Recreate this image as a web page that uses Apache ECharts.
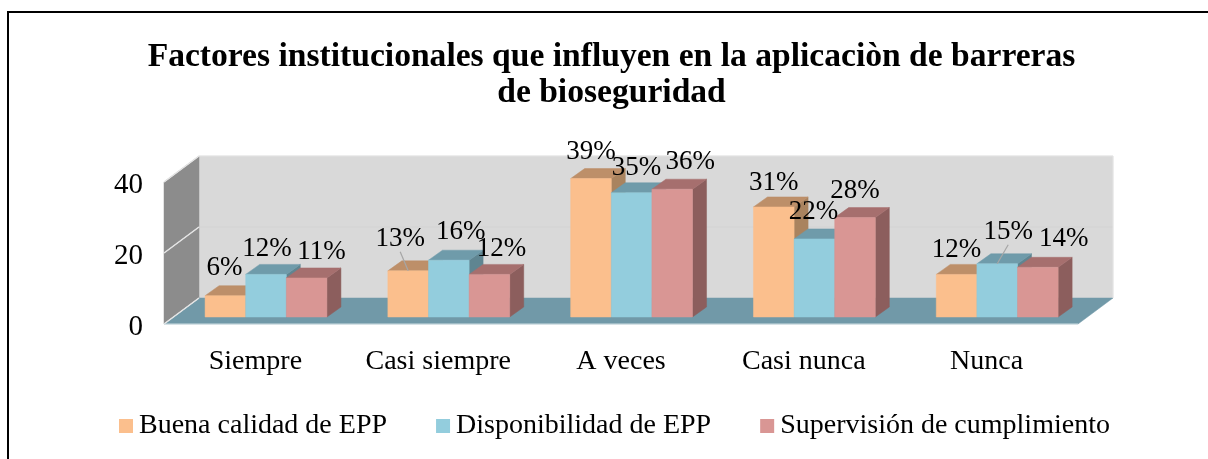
<!DOCTYPE html>
<html><head><meta charset="utf-8">
<style>html,body{margin:0;padding:0;background:#fff}#c{width:1208px;height:459px}</style>
<script src="https://cdn.jsdelivr.net/npm/echarts@6/dist/echarts.min.js"></script>
</head><body><div id="c"></div>
<script>
var categories = ['Siempre', 'Casi siempre', 'A veces', 'Casi nunca', 'Nunca'];
var buenaCalidad = [6, 13, 39, 31, 12];
var disponibilidad = [12, 16, 35, 22, 15];
var supervision = [11, 12, 36, 28, 14];
var yTicks = [0, 20, 40];
var seriesNames = ['Buena calidad de EPP', 'Disponibilidad de EPP', 'Supervisión de cumplimiento'];

var FONT = '"Liberation Serif","Times New Roman",serif';
var faces = [
  {front: '#FBBF8D', top: '#BD8F69', side: '#A9835F'},
  {front: '#93CDDD', top: '#6F9BAA', side: '#5F8591'},
  {front: '#D99694', top: '#A66F6E', side: '#8C5E5D'}
];
// Label placement relative to the top-front centre of each bar [dx, dy]
var labelNudge = [
  [[-1,-28],[-8,-32],[0,-27],[0,-24],[0,-24]],
  [[1,-25],[12,-28],[5,-25],[-1,-27],[11,-32]],
  [[15,-26],[12,-25],[18,-27],[0,-27],[26,-28]]
];
var leaders = {'0-1': true, '1-4': true};
var DEPTH = {x: 35, y: -26};       // wall depth
var BAR_DEPTH = {x: 14, y: -10};   // bar depth
var BAR_SHIFT = {x: 10.6, y: -7};  // bars stand inside the floor
var BAR_W = 0.2222;                // share of a category band

function poly(pts, fill, stroke, z2) {
  return {type: 'polygon', shape: {points: pts}, z2: z2,
    style: {fill: fill, stroke: stroke || fill, lineWidth: stroke ? 1 : 0.5}};
}
function renderWalls(params, api) {
  var cs = params.coordSys, x0 = cs.x, x1 = cs.x + cs.width;
  var y0 = api.coord([0, 0])[1], yT = api.coord([0, 40])[1];
  var dx = DEPTH.x, dy = DEPTH.y, edge = '#e4e4e4';
  var kids = [
    poly([[x0+dx,yT+dy],[x1+dx,yT+dy],[x1+dx,y0+dy],[x0+dx,y0+dy]], '#D9D9D9', null, 1),
    poly([[x0,yT],[x0+dx,yT+dy],[x0+dx,y0+dy],[x0,y0]], '#8C8C8C', null, 1),
    poly([[x0,y0],[x1,y0],[x1+dx,y0+dy],[x0+dx,y0+dy]], '#7199A8', null, 2)
  ];
  yTicks.forEach(function (t) {
    var y = api.coord([0, t])[1];
    kids.push({type: 'polyline', z2: 3, shape: {points: [[x0, y],[x0+dx, y+dy],[x1+dx, y+dy]].slice(0, t === 0 ? 2 : 3)},
      style: {fill: null, stroke: t === 20 ? '#d3d3d3' : edge, lineWidth: 1}});
    kids.push({type: 'line', z2: 3, shape: {x1: x0, y1: y, x2: x0+dx, y2: y+dy},
      style: {stroke: edge, lineWidth: 1.5}});
  });
  kids.push({type: 'line', z2: 3, shape: {x1: x1+dx, y1: yT+dy, x2: x1+dx, y2: y0+dy}, style: {stroke: edge, lineWidth: 1}});
  kids.push({type: 'line', z2: 3, shape: {x1: x0, y1: y0, x2: x1, y2: y0}, style: {stroke: '#cfdde2', lineWidth: 1}});
  return {type: 'group', children: kids};
}
function makeRender(s) {
  return function (params, api) {
    var i = api.value(0), v = api.value(1);
    var c = api.coord([i, v]), b = api.coord([i, 0]);
    var w = api.size([1, 0])[0] * BAR_W;
    var L = c[0] + BAR_SHIFT.x + (s - 1.5) * w, R = L + w;
    var T = c[1] + BAR_SHIFT.y, B = b[1] + BAR_SHIFT.y;
    var dx = BAR_DEPTH.x, dy = BAR_DEPTH.y, f = faces[s], z = 10 + s * 5;
    var kids = [
      poly([[R,T],[R+dx,T+dy],[R+dx,B+dy],[R,B]], f.side, null, z),
      poly([[L,T],[L+dx,T+dy],[R+dx,T+dy],[R,T]], f.top, null, z + 1),
      poly([[L,T],[R,T],[R,B],[L,B]], f.front, null, z + 2)
    ];
    var n = labelNudge[s][i], cx = (L + R) / 2;
    if (leaders[s + '-' + i]) {
      kids.push({type: 'line', z2: 90, shape: {x1: cx, y1: T, x2: cx + n[0], y2: T + n[1] + 13},
        style: {stroke: '#a6a6a6', lineWidth: 1.2}});
    }
    kids.push({type: 'text', z2: 100, x: cx + n[0], y: T + n[1],
      style: {text: v + '%', fill: '#000', font: '27px ' + FONT, align: 'center', verticalAlign: 'middle'}});
    return {type: 'group', children: kids};
  };
}
var values = [buenaCalidad, disponibilidad, supervision];
var series = [{
  type: 'custom', name: 'walls', silent: true, clip: false, z: 2,
  renderItem: renderWalls, data: [[0, 0]], encode: {x: 0, y: 1}
}];
values.forEach(function (arr, s) {
  series.push({
    type: 'custom', name: seriesNames[s], clip: false, z: 2,
    itemStyle: {color: faces[s].front},
    renderItem: makeRender(s),
    encode: {x: 0, y: 1},
    data: arr.map(function (v, i) { return [i, v]; })
  });
});
var chart = echarts.init(document.getElementById('c'), null, {renderer: 'canvas'});
chart.setOption({
  animation: false,
  backgroundColor: '#fff',
  title: {
    text: 'Factores institucionales que influyen en la aplicaciòn de barreras\nde bioseguridad',
    left: 606.5, top: 34, textAlign: 'center',
    textStyle: {fontFamily: FONT, fontWeight: 'bold', fontSize: 33.6, lineHeight: 36, color: '#000'}
  },
  grid: {left: 164, top: 182, width: 914, height: 142},
  xAxis: {
    type: 'category', data: categories,
    axisLine: {show: false}, axisTick: {show: false}, splitLine: {show: false},
    axisLabel: {fontFamily: FONT, fontSize: 28, color: '#000', margin: 24, interval: 0}
  },
  yAxis: {
    type: 'value', min: 0, max: 40, interval: 20,
    axisLine: {show: false}, axisTick: {show: false}, splitLine: {show: false},
    axisLabel: {fontFamily: FONT, fontSize: 29, color: '#000', margin: 21, verticalAlign: 'top', lineHeight: 7}
  },
  legend: {
    data: seriesNames, left: 114, top: 407, itemWidth: 14, itemHeight: 14, itemGap: 49,
    icon: 'rect',
    textStyle: {fontFamily: FONT, fontSize: 28, color: '#000', padding: [0, 0, 0, 1]}
  },
  graphic: [
    {type: 'polyline', silent: true, shape: {points: [[1208, 12], [8, 12], [8, 459]]},
     style: {fill: null, stroke: '#000', lineWidth: 2}}
  ],
  series: series
});
</script></body></html>
